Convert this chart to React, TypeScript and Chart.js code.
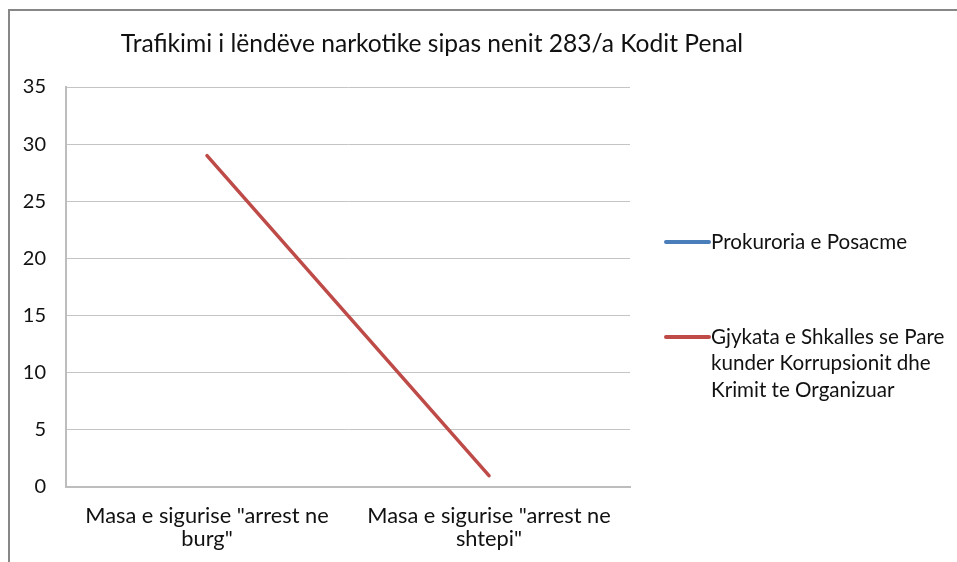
import React, { useEffect, useRef } from "react";
import { Chart, registerables } from "chart.js";

Chart.register(...registerables);

const titleText = "Trafikimi i lëndëve narkotike sipas nenit 283/a Kodit Penal";
const categories: string[][] = [
  ['Masa e sigurise "arrest ne', 'burg"'],
  ['Masa e sigurise "arrest ne', 'shtepi"'],
];
const seriesNames = [
  "Prokuroria e Posacme",
  "Gjykata e Shkalles se Pare kunder Korrupsionit dhe Krimit te Organizuar",
];
const legendLines: string[][] = [
  ["Prokuroria e Posacme"],
  ["Gjykata e Shkalles se Pare", "kunder Korrupsionit dhe", "Krimit te Organizuar"],
];
const prokuroriaValues: (number | null)[] = [null, null];
const gjykataValues: (number | null)[] = [29, 1];
const yTicks = [0, 5, 10, 15, 20, 25, 30, 35];

const FONT = "Lato, 'Noto Sans', sans-serif";
const BLUE = "#4a7ebb";
const RED = "#be4b48";

const overlayPlugin = {
  id: "overlay",
  afterDraw(chart: any) {
    const ctx = chart.ctx as CanvasRenderingContext2D;
    ctx.save();
    // title
    ctx.fillStyle = "#111";
    ctx.font = `24.6px ${FONT}`;
    ctx.textAlign = "center";
    ctx.textBaseline = "middle";
    ctx.fillText(titleText, 432, 44);
    // legend
    const rows = [242, 337];
    const lineGap = 26.5;
    chart.data.datasets.forEach((ds: any, i: number) => {
      const y = rows[i];
      ctx.strokeStyle = ds.borderColor;
      ctx.lineWidth = 4;
      ctx.lineCap = "round";
      ctx.beginPath();
      ctx.moveTo(666, y);
      ctx.lineTo(709, y);
      ctx.stroke();
      ctx.fillStyle = "#111";
      ctx.font = `20.6px ${FONT}`;
      ctx.textAlign = "left";
      ctx.textBaseline = "middle";
      legendLines[i].forEach((t, j) => {
        ctx.fillText(t, 711, y + j * lineGap);
      });
    });
    ctx.restore();
  },
};

export default function App() {
  const ref = useRef<HTMLCanvasElement>(null);
  useEffect(() => {
    if (!ref.current) return;
    const chart = new Chart(ref.current, {
      type: "line",
      data: {
        labels: categories,
        datasets: [
          {
            label: seriesNames[0],
            data: prokuroriaValues,
            borderColor: BLUE,
            backgroundColor: BLUE,
            borderWidth: 3.5,
            pointRadius: 0,
            borderCapStyle: "round",
          },
          {
            label: seriesNames[1],
            data: gjykataValues,
            borderColor: RED,
            backgroundColor: RED,
            borderWidth: 3.5,
            pointRadius: 0,
            borderCapStyle: "round",
          },
        ],
      },
      options: {
        responsive: false,
        animation: false,
        layout: { padding: { left: 0, top: 87, right: 327, bottom: 0 } },
        plugins: {
          legend: { display: false },
          title: { display: false },
          tooltip: { enabled: false },
        },
        scales: {
          x: {
            type: "category",
            offset: true,
            grid: { display: false, drawTicks: false },
            border: { display: true, color: "#bdbdbd", width: 2 },
            ticks: {
              color: "#111",
              font: { family: FONT, size: 21.8, lineHeight: 1.08 },
              padding: 17,
              maxRotation: 0,
              autoSkip: false,
            },
            afterFit(scale: any) {
              scale.height = 75;
            },
          },
          y: {
            min: 0,
            max: 35,
            afterBuildTicks(scale: any) {
              scale.ticks = yTicks.map((v) => ({ value: v }));
            },
            grid: { color: "#c4c4c4", lineWidth: 1, drawTicks: false },
            border: { display: true, color: "#bdbdbd", width: 2 },
            ticks: {
              color: "#111",
              font: { family: FONT, size: 20 },
              padding: 20,
            },
            afterFit(scale: any) {
              scale.width = 66;
            },
          },
        },
      },
      plugins: [overlayPlugin],
    });
    return () => chart.destroy();
  }, []);

  return (
    <div
      style={{
        position: "fixed",
        left: 0,
        top: 0,
        width: 957,
        height: 562,
        overflow: "hidden",
        background: "#fff",
      }}
    >
      <div
        style={{
          position: "absolute",
          left: 8,
          top: 9,
          width: 2000,
          height: 2000,
          border: "2px solid #878787",
        }}
      />
      <canvas
        ref={ref}
        width={957}
        height={562}
        style={{ position: "absolute", left: 0, top: 0, width: 957, height: 562 }}
      />
    </div>
  );
}
